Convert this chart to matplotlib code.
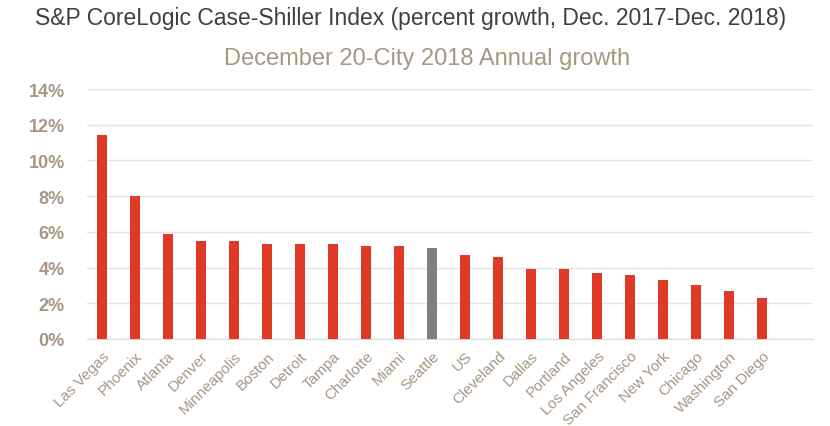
import matplotlib
matplotlib.use("Agg")
import matplotlib.pyplot as plt
from matplotlib.ticker import FuncFormatter

plt.rcParams['font.family'] = ['Liberation Sans', 'DejaVu Sans']

cities = ['Las Vegas', 'Phoenix', 'Atlanta', 'Denver', 'Minneapolis', 'Boston',
          'Detroit', 'Tampa', 'Charlotte', 'Miami', 'Seattle', 'US', 'Cleveland',
          'Dallas', 'Portland', 'Los Angeles', 'San Francisco', 'New York',
          'Chicago', 'Washington', 'San Diego']
growth = [11.4, 8.0, 5.9, 5.5, 5.5, 5.3, 5.3, 5.3, 5.2, 5.2, 5.1, 4.7, 4.6,
          3.9, 3.9, 3.7, 3.6, 3.3, 3.0, 2.7, 2.3]
highlight = 'Seattle'

red = '#E03A27'
grey = '#7F7F7F'
tan = '#A69784'

fig = plt.figure(figsize=(8.3, 4.27), dpi=100)
ax = fig.add_axes([0.105, 0.204, 0.875, 0.585])

colors = [grey if c == highlight else red for c in cities]
ax.bar(range(len(cities)), growth, width=0.31, color=colors, zorder=3)

ax.set_xlim(-0.45, len(cities) + 0.55)
ax.set_ylim(0, 14)
ax.set_yticks(range(0, 15, 2))
ax.yaxis.set_major_formatter(FuncFormatter(lambda v, p: f"{v:.0f}%"))
ax.grid(axis='y', color='#E3E3E3', linewidth=1, zorder=0)
for s in ['top', 'right', 'left']:
    ax.spines[s].set_visible(False)
ax.spines['bottom'].set_color('#D9D9D9')
ax.tick_params(axis='both', length=0)
ax.tick_params(axis='y', labelsize=13, labelcolor=tan, pad=16)
for lbl in ax.get_yticklabels():
    lbl.set_fontweight('bold')

ax.set_xticks(range(len(cities)))
ax.set_xticklabels(cities, rotation=45, ha='right', rotation_mode='anchor',
                   fontsize=11, color=tan)
ax.tick_params(axis='x', pad=7)

fig.text(0.042, 0.941, 'S&P CoreLogic Case-Shiller Index (percent growth, Dec. 2017-Dec. 2018)',
         fontsize=16.5, color='#404040', ha='left', va='baseline')
fig.text(0.514, 0.848, 'December 20-City 2018 Annual growth',
         fontsize=17, color=tan, ha='center', va='baseline')

fig.savefig('out.png', dpi=100)
